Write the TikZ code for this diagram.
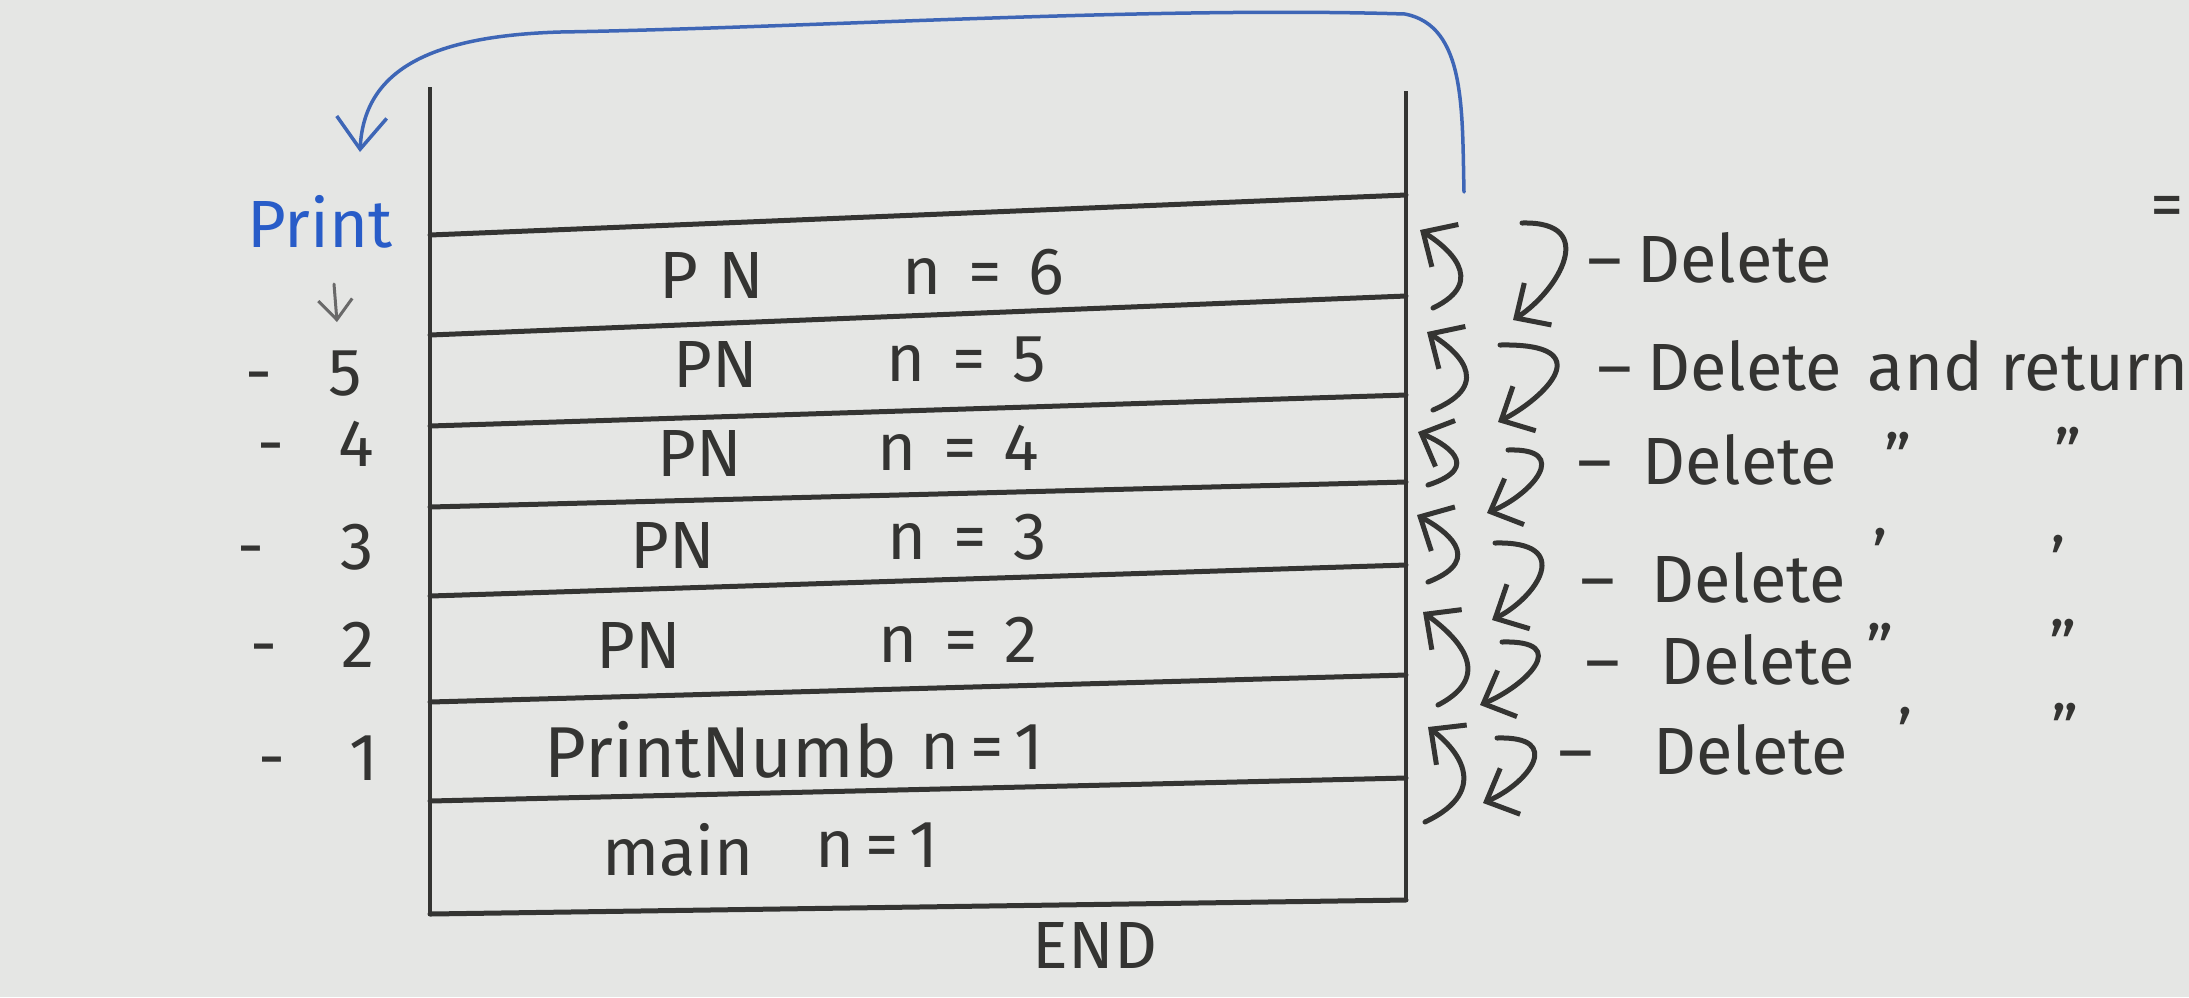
\documentclass[tikz,border=0pt]{standalone}
\usepackage{fontspec}
\setmainfont{Fira Sans}
\usetikzlibrary{arrows.meta}
\definecolor{paper}{RGB}{229,230,228}
\definecolor{inkc}{RGB}{52,52,50}
\definecolor{pen}{RGB}{62,102,182}
\definecolor{pentext}{RGB}{40,92,200}
\definecolor{pencil}{RGB}{105,105,105}
\newcommand{\eqgap}{\hspace{0.4em}}
\begin{document}
\begin{tikzpicture}[x=0.1mm,y=-0.1mm,
  wall/.style={draw=inkc, line width=0.4mm},
  rowline/.style={draw=inkc, line width=0.5mm, line cap=round},
  hand/.style={text=inkc, font=\fontsize{19}{22}\selectfont, inner sep=0pt},
  handw/.style={hand, anchor=west},
  retarrow/.style={draw=inkc, line width=0.5mm, line cap=round, -{Straight Barb[length=2.6mm,width=5mm]}},
  bluearrow/.style={draw=pen, line width=0.35mm, line cap=round, -{Straight Barb[length=3.2mm,width=5mm]}},
  pencilarrow/.style={draw=pencil, line width=0.3mm, line cap=round, -{Straight Barb[length=2mm,width=3.4mm]}}]
\fill[paper] (0,0) rectangle (2189,997);
\useasboundingbox (0,0) rectangle (2189,997);

% stack walls
\coordinate (TL) at (430,87);  \coordinate (BL) at (430,914);
\coordinate (TR) at (1406,91); \coordinate (BR) at (1406,900);
\draw[wall] (TL) -- (BL);
\draw[wall] (TR) -- (BR);
% frame separators
\foreach \i/\ly/\ry in {1/235/195, 2/335/296, 3/426/395, 4/507/482, 5/596/565, 6/702/675, 7/801/778, 8/914/900}{
  \coordinate (L\i) at (430,\ly);
  \coordinate (R\i) at (1406,\ry);
  \draw[rowline] (L\i) -- (R\i);
}

% frame contents
\node[hand] (f6) at (712,275) {P\hspace{0.3em}N};
\node[hand] (n6) at (983,272) {n\eqgap=\eqgap6};
\node[hand] (f5) at (716,364) {PN};
\node[hand] (n5) at (966,360) {n\eqgap=\eqgap5};
\node[hand] (f4) at (700,453) {PN};
\node[hand] (n4) at (958,448) {n\eqgap=\eqgap4};
\node[hand] (f3) at (673,545) {PN};
\node[hand] (n3) at (967,537) {n\eqgap=\eqgap3};
\node[hand] (f2) at (639,645) {PN};
\node[hand] (n2) at (958,640) {n\eqgap=\eqgap2};
\node[hand, font=\fontsize{20.5}{24}\selectfont] (f1) at (721,750) {PrintNumb};
\node[hand] (n1) at (982,747) {n\,=\,1};
\node[hand] (fm) at (678,850) {main};
\node[hand] (nm) at (877,845) {n\,=\,1};
\node[hand] (endlbl) at (1095,945) {END};

% left labels
\node[hand, text=pentext] (print) at (320,222) {Print};
\coordinate (ga) at (334,284);
\coordinate (gb) at (337,322);
\draw[pencilarrow] (ga) -- (gb);
\node[handw] (k5) at (245,374) {-\hspace{5.6mm}5};
\node[handw] (k4) at (257,444) {-\hspace{5.4mm}4};
\node[handw] (k3) at (237,547) {-\hspace{7.6mm}3};
\node[handw] (k2) at (250,645) {-\hspace{6.4mm}2};
\node[handw] (k1) at (258,758) {-\hspace{6.4mm}1};

% blue return arrow
\coordinate (bs) at (1464,192);
\coordinate (be) at (360,152);
\draw[bluearrow] (bs) .. controls (1462,110) and (1466,26) .. (1405,14)
   .. controls (1150,6) and (800,28) .. (560,32)
   .. controls (430,36) and (364,70) .. (be);

% call arrows (up) next to the wall
\foreach \k/\tx/\ty/\bx/\px/\py in {1/1433/308/1462/1420/230, 2/1433/410/1470/1427/332,
    3/1428/485/1457/1418/432, 4/1428/582/1460/1417/515, 5/1438/705/1473/1423/612,
    6/1425/822/1467/1428/727}{
  \coordinate (ut\k) at (\tx,\ty);
  \coordinate (up\k) at (\px,\py);
  \draw[retarrow] (ut\k) .. controls ({\bx+28},{\ty-0.35*(\ty-\py)}) and ({\px+25},{\py+0.2*(\ty-\py)}) .. (up\k);
}
% delete arrows (down)
\foreach \k/\tx/\ty/\bx/\px/\py in {1/1522/223/1570/1513/320, 2/1500/345/1573/1498/422,
    3/1508/450/1542/1487/513, 4/1495/543/1545/1492/620, 5/1502/642/1543/1480/705,
    6/1497/738/1535/1483/803}{
  \coordinate (dt\k) at (\tx,\ty);
  \coordinate (dp\k) at (\px,\py);
  \draw[retarrow] (dt\k) .. controls ({\bx+30},{\ty-2}) and ({\px+45},{\py-0.3*(\py-\ty)}) .. (dp\k);
}

% delete labels
\node[handw] (del6) at (1587,258) {--\hspace{1.5mm}Delete};
\node[handw] (del5) at (1597,366) {--\hspace{1.5mm}Delete\hspace{2.6mm}and return};
\node[handw] (del4) at (1577,460) {--\hspace{3mm}Delete};
\node[handw] (del3) at (1580,578) {--\hspace{3.6mm}Delete};
\node[handw] (del2) at (1585,660) {--\hspace{4mm}Delete};
\node[handw] (del1) at (1558,750) {--\hspace{6mm}Delete};
% ditto marks
\node[hand] (q4a) at (1898,457) {''};
\node[hand] (q4b) at (2068,452) {''};
\node[hand] (q3a) at (1880,553) {'};
\node[hand] (q3b) at (2058,560) {'};
\node[hand] (q2a) at (1880,648) {''};
\node[hand] (q2b) at (2063,644) {''};
\node[hand] (q1a) at (1905,732) {'};
\node[hand] (q1b) at (2065,728) {''};
\node[hand, anchor=east] (eqmark) at (2185,212) {=};
\end{tikzpicture}
\end{document}
